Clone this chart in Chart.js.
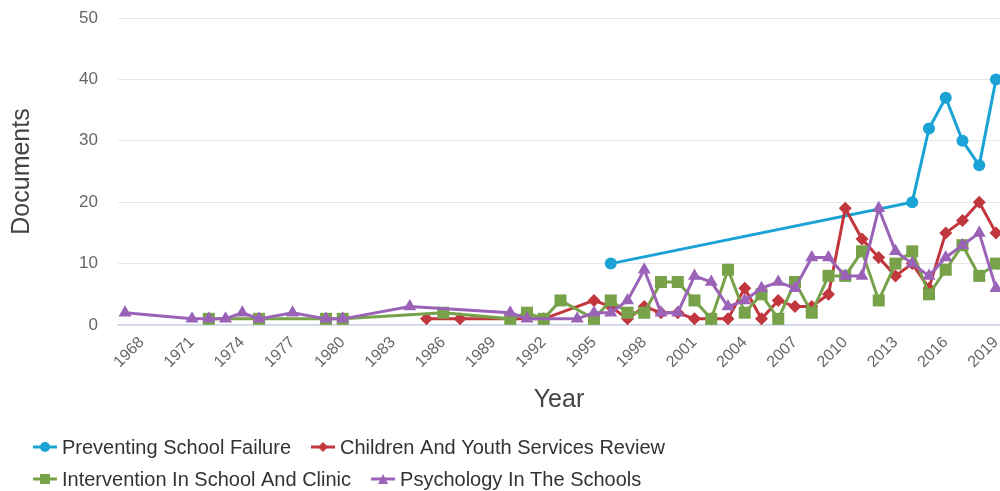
<!DOCTYPE html>
<html><head><meta charset="utf-8">
<script src="https://cdn.jsdelivr.net/npm/chart.js@4.4.1/dist/chart.umd.min.js"></script>
<style>html,body{margin:0;padding:0;background:#fff;}#wrap{width:1000px;height:491px;position:relative;}</style>
</head><body><div id="wrap"><canvas id="c"></canvas></div>
<script>
// ---- data ----
const xTickYears = [1968,1971,1974,1977,1980,1983,1986,1989,1992,1995,1998,2001,2004,2007,2010,2013,2016,2019];
const yTicks = [0,10,20,30,40,50];

const seriesNames = ["Preventing School Failure","Children And Youth Services Review","Intervention In School And Clinic","Psychology In The Schools"];

const psfYears  = [1996,2014,2015,2016,2017,2018,2019];
const psfValues = [10,20,32,37,30,26,40];

const cysrYears  = [1985,1987,1992,1995,1996,1997,1998,1999,2000,2001,2002,2003,2004,2005,2006,2007,2008,2009,2010,2011,2012,2013,2014,2015,2016,2017,2018,2019];
const cysrValues = [1,1,1,4,3,1,3,2,2,1,1,1,6,1,4,3,3,5,19,14,11,8,10,6,15,17,20,15];

const iscYears  = [1972,1975,1979,1980,1986,1990,1991,1992,1993,1995,1996,1997,1998,1999,2000,2001,2002,2003,2004,2005,2006,2007,2008,2009,2010,2011,2012,2013,2014,2015,2016,2017,2018,2019];
const iscValues = [1,1,1,1,2,1,2,1,4,1,4,2,2,7,7,4,1,9,2,5,1,7,2,8,8,12,4,10,12,5,9,13,8,10];

const pitsYears  = [1967,1971,1972,1973,1974,1975,1977,1979,1980,1984,1990,1991,1994,1995,1996,1997,1998,1999,2000,2001,2002,2003,2004,2005,2006,2007,2008,2009,2010,2011,2012,2013,2014,2015,2016,2017,2018,2019];
const pitsValues = [2,1,1,1,2,1,2,1,1,3,2,1,1,2,2,4,9,2,2,8,7,3,4,6,7,6,11,11,8,8,19,12,10,8,11,13,15,6];

// ---- styles ----
const colors = ['#1aa3d4','#c2363e','#77a24a','#9b63b8'];
const styles = ['circle','rectRot','rect','triangle'];
const radii  = [6,6.5,8.5,7.5];
const FONT = "'Liberation Sans', Arial, sans-serif";
const legendRows = [[0,1],[2,3]];

function pts(xs, ys){ return xs.map((x,i)=>({x:x, y:ys[i]})); }

function drawMarker(g, style, cx, cy, r){
  g.beginPath();
  if (style === 'circle') { g.arc(cx,cy,r,0,Math.PI*2); }
  else if (style === 'rectRot') { g.moveTo(cx,cy-r); g.lineTo(cx+r,cy); g.lineTo(cx,cy+r); g.lineTo(cx-r,cy); g.closePath(); }
  else if (style === 'rect') { g.rect(cx-r,cy-r,2*r,2*r); }
  else { g.moveTo(cx,cy-r); g.lineTo(cx+r,cy+r); g.lineTo(cx-r,cy+r); g.closePath(); }
  g.fill();
}

const allYears = [psfYears,cysrYears,iscYears,pitsYears];
const allVals  = [psfValues,cysrValues,iscValues,pitsValues];
const datasets = seriesNames.map((n,i)=>({
  label: n,
  data: pts(allYears[i], allVals[i]),
  borderColor: colors[i],
  backgroundColor: colors[i],
  borderWidth: 3,
  pointStyle: styles[i],
  pointRadius: radii[i],
  pointHoverRadius: radii[i],
  pointBorderWidth: 0,
  tension: 0,
  order: 4 - i,
  clip: false
}));

const customLegend = {
  id: 'customLegend',
  afterDraw(chart){
    const ctx = chart.ctx;
    ctx.save();
    ctx.font = '20px ' + FONT;
    ctx.textBaseline = 'middle';
    ctx.textAlign = 'left';
    legendRows.forEach((row, r) => {
      let x = 33;
      const y = 447 + r * 32;
      row.forEach(i => {
        const ds = chart.data.datasets[i];
        ctx.strokeStyle = ds.borderColor; ctx.lineWidth = 3;
        ctx.beginPath(); ctx.moveTo(x, y); ctx.lineTo(x + 24, y); ctx.stroke();
        ctx.fillStyle = ds.borderColor;
        drawMarker(ctx, styles[i], x + 12, y, 5);
        ctx.fillStyle = '#333333';
        ctx.fillText(ds.label, x + 29, y + 1);
        x += 29 + ctx.measureText(ds.label).width + 20;
      });
    });
    ctx.restore();
  }
};

new Chart(document.getElementById('c'), {
  type: 'line',
  data: { datasets },
  plugins: [customLegend],
  options: {
    responsive: true,
    maintainAspectRatio: false,
    animation: false,
    layout: { autoPadding: false, padding: { top: 18, right: 0, left: 0, bottom: 67 } },
    plugins: {
      tooltip: { enabled: false },
      legend: { display: false }
    },
    scales: {
      x: {
        type: 'linear',
        min: 1966.58, max: 2019.24,
        afterBuildTicks(scale){ scale.ticks = xTickYears.map(v=>({value:v})); },
        afterFit(scale){ scale.height = 99; scale.paddingLeft = 0; scale.paddingRight = 0; },
        grid: { display: false, drawTicks: false },
        border: { display: true, color: '#ccd6eb', width: 1.5 },
        ticks: {
          minRotation: 45, maxRotation: 45, autoSkip: false,
          padding: 8,
          color: '#666666',
          font: { family: FONT, size: 16 },
          callback: v => String(v)
        },
        title: { display: true, text: 'Year', color: '#444444', font: { family: FONT, size: 25 }, padding: { top: 0, bottom: 9 } }
      },
      y: {
        min: 0, max: 50,
        afterBuildTicks(scale){ scale.ticks = yTicks.map(v=>({value:v})); },
        afterFit(scale){ scale.width = 118; scale.paddingTop = 0; scale.paddingBottom = 0; },
        grid: { color: '#e6e6e6', lineWidth: 1, drawTicks: false },
        border: { display: false },
        ticks: { padding: 20, color: '#666666', font: { family: FONT, size: 17 } },
        title: { display: true, text: 'Documents', color: '#444444', font: { family: FONT, size: 25 }, padding: { top: 7, bottom: 0 } }
      }
    }
  }
});
</script></body></html>
